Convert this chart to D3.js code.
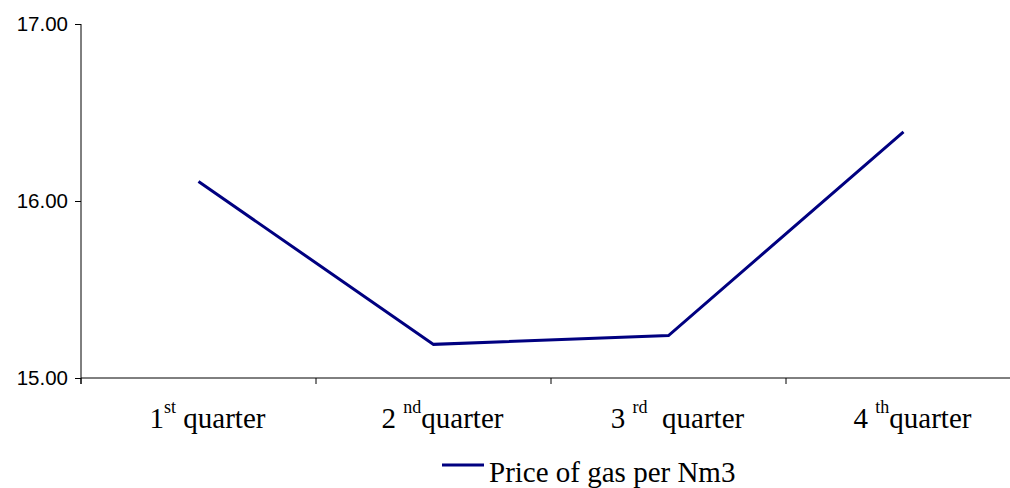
<!DOCTYPE html>
<html>
<head>
<meta charset="utf-8">
<script src="https://cdn.jsdelivr.net/npm/d3@7"></script>
<style>
html,body{margin:0;padding:0;background:#fff;}
svg{display:block;}
</style>
</head>
<body>
<svg id="chart" width="1010" height="488"></svg>
<script>
const categories = ["1st quarter", "2nd quarter", "3rd quarter", "4th quarter"];
const catNumbers = ["1", "2 ", "3 ", "4 "];
const catSuffixes = ["st", "nd", "rd", "th"];
const catTails = [" quarter", "quarter", "  quarter", "quarter"];
const priceValues = [16.11, 15.19, 15.24, 16.39];
const yTicks = [15, 16, 17];
const seriesName = "Price of gas per Nm3";

const svg = d3.select("#chart");
const x = d3.scaleBand().domain(categories).range([81, 1021]).padding(0);
const y = d3.scaleLinear().domain([15, 17]).range([378, 24]);

// Y axis
const yAxis = d3.axisLeft(y).tickValues(yTicks).tickFormat(d3.format(".2f")).tickSize(6).tickPadding(7);
const gy = svg.append("g").attr("transform", "translate(81,0)").call(yAxis);
gy.attr("font-size", null).attr("font-family", null);
gy.select(".domain").attr("d", `M0,${y(17)}V${y(15) + 6}`).attr("stroke", "#000");
gy.selectAll(".tick line").attr("stroke", "#000");
gy.selectAll(".tick text")
  .style("font-family", "'Liberation Sans', Arial, sans-serif")
  .style("font-size", "20.5px")
  .attr("fill", "#000");

// X axis
const boundaries = categories.map(c => x(c)).concat([x(categories[3]) + x.bandwidth()]);
const gx = svg.append("g").attr("transform", `translate(0,${y(15)})`);
gx.append("line").attr("x1", 81).attr("x2", 1021).attr("y1", 0).attr("y2", 0).attr("stroke", "#000");
gx.selectAll("line.tk").data(boundaries).join("line").attr("class", "tk")
  .attr("x1", d => d).attr("x2", d => d).attr("y1", 0).attr("y2", 6).attr("stroke", "#000");

const labels = gx.selectAll("text.cat").data(categories).join("text").attr("class", "cat")
  .attr("x", d => x(d) + x.bandwidth() / 2 + 9)
  .attr("y", 50)
  .attr("text-anchor", "middle")
  .style("font-family", "'Liberation Serif', 'Times New Roman', serif")
  .style("font-size", "29px")
  .attr("fill", "#000")
  .style("white-space", "pre")
  .attr("xml:space", "preserve");
labels.each(function(d, i) {
  const t = d3.select(this);
  t.append("tspan").text(catNumbers[i]);
  t.append("tspan").style("font-size", "18px").attr("dy", -15).text(catSuffixes[i]);
  t.append("tspan").attr("dy", 15).text(catTails[i]);
});

// Line
const line = d3.line().x((d, i) => x(categories[i]) + x.bandwidth() / 2).y(d => y(d));
svg.append("path").datum(priceValues).attr("d", line)
  .attr("fill", "none").attr("stroke", "#000080").attr("stroke-width", 3).attr("stroke-linejoin", "miter");

// Legend
const lg = svg.append("g");
lg.append("line").attr("x1", 442).attr("x2", 484).attr("y1", 465).attr("y2", 465)
  .attr("stroke", "#000080").attr("stroke-width", 3);
lg.append("text").attr("x", 489).attr("y", 482)
  .style("font-family", "'Liberation Serif', 'Times New Roman', serif").style("font-size", "29px").attr("fill", "#000")
  .text(seriesName);
</script>
</body>
</html>
